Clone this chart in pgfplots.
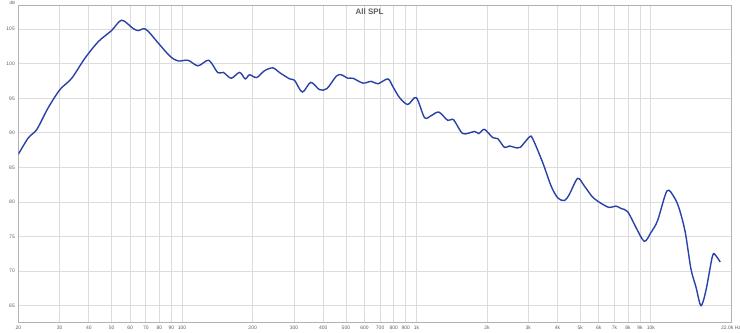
\documentclass[border=0pt]{standalone}
\usepackage{pgfplots}
\pgfplotsset{compat=1.18}
\usepackage{fontspec}
\setmainfont{Liberation Sans}
\definecolor{curve}{RGB}{42,66,168}
\definecolor{gridc}{RGB}{220,220,220}
\definecolor{txt}{RGB}{95,95,95}
\begin{document}
\begin{tikzpicture}[x=1bp,y=1bp]
\begin{axis}[
  at={(0,0)}, anchor=south west,
  scale only axis, width=713bp, height=318bp,
  xmode=log, xmin=20, xmax=22000, ymin=62.5, ymax=108.5,
  xtick={20,30,40,50,60,70,80,90,100,200,300,400,500,600,700,800,900,1000,2000,3000,4000,5000,6000,7000,8000,9000,10000,22000},
  xticklabels={20,30,40,50,60,70,80,90,100,200,300,400,500,600,700,800,900,1k,2k,3k,4k,5k,6k,7k,8k,9k,10k,22.0k Hz},
  minor xtick={},
  ytick={65,70,75,80,85,90,95,100,105},
  grid=major,
  major grid style={draw=gridc, line width=0.8bp},
  axis line style={draw=gray!60, line width=0.8bp},
  major tick length=0pt,
  tick style={draw=none},
  tick label style={font=\fontsize{5}{6}\selectfont, text=txt},
  /pgf/number format/assume math mode=true,
  xticklabel style={yshift=0.5bp},
  clip=true,
]
\addplot[curve, line width=1.4bp, smooth, tension=0.5] coordinates {
(20,86.9)
(22.1,89.3)
(24.0,90.5)
(26.8,93.6)
(30.1,96.25)
(33.8,97.9)
(38.5,100.8)
(43.9,103.2)
(50.0,104.8)
(55.2,106.3)
(61.8,105.1)
(65.0,104.8)
(70.0,105.0)
(79.1,103.0)
(88.7,101.1)
(96.2,100.4)
(106,100.5)
(117,99.7)
(130,100.5)
(142,98.7)
(150,98.75)
(162,97.9)
(176,98.75)
(186,97.8)
(194,98.4)
(208,98.0)
(225,99.0)
(244,99.4)
(261,98.7)
(288,97.8)
(302,97.6)
(326,95.9)
(354,97.3)
(386,96.25)
(415,96.4)
(455,98.2)
(478,98.4)
(510,97.9)
(536,97.9)
(591,97.2)
(642,97.45)
(685,97.1)
(755,97.8)
(793,96.7)
(847,95.1)
(919,94.1)
(998,95.1)
(1083,92.2)
(1157,92.5)
(1246,93.0)
(1361,91.8)
(1440,91.9)
(1577,89.9)
(1769,90.2)
(1846,89.9)
(1951,90.5)
(2116,89.3)
(2224,89.15)
(2375,87.9)
(2494,88.1)
(2620,87.9)
(2771,87.9)
(3035,89.4)
(3134,89.15)
(3458,85.7)
(3756,82.3)
(4006,80.6)
(4280,80.2)
(4494,81.1)
(4876,83.4)
(5208,82.3)
(5649,80.7)
(6135,79.8)
(6656,79.2)
(7106,79.4)
(7466,79.05)
(7966,78.6)
(8650,76.3)
(9384,74.3)
(10024,75.6)
(10692,77.3)
(11726,81.6)
(12596,80.65)
(13230,79.0)
(14034,75.6)
(14840,70.3)
(15586,67.7)
(16370,65.0)
(17196,67.2)
(18346,72.2)
(18968,72.2)
(19784,71.3)
};
\node[font=\bfseries\fontsize{8}{9}\selectfont, text=txt] at (rel axis cs:0.493,1) [yshift=-7bp] {All SPL};
\end{axis}
\node[font=\fontsize{4.5}{5}\selectfont, text=txt, inner sep=0pt] at (-6,320.5) {dB};
\pgfresetboundingbox
\useasboundingbox (-18.3,-10) rectangle (722,323);
\end{tikzpicture}
\end{document}
